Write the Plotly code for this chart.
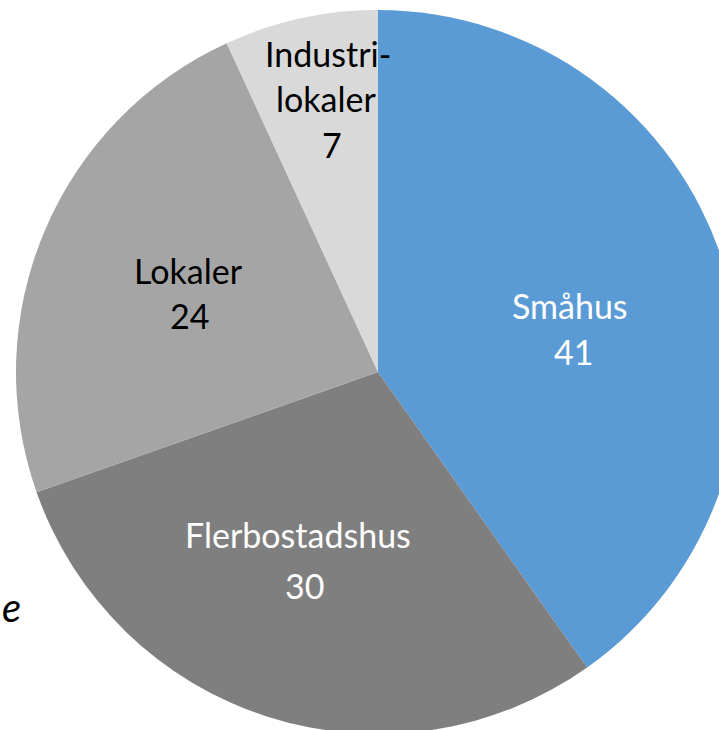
import plotly.graph_objects as go

categories = ["Småhus", "Flerbostadshus", "Lokaler", "Industrilokaler"]
values = [41, 30, 24, 7]
name_lines = [["Småhus"], ["Flerbostadshus"], ["Lokaler"], ["Industri-", "lokaler"]]
colors = ["#5B9BD5", "#7F7F7F", "#A5A5A5", "#D9D9D9"]
text_colors = ["white", "white", "black", "black"]

W, H = 740, 734
ML, MT = 16, 10
PW, PH = W - ML, H - MT

def px(x, y):
    return (x - ML) / PW, 1 - (y - MT) / PH

# label line centre positions in pixels (layout only): name lines then value line
name_pos = [[(570, 306)], [(298, 535)], [(188, 271)], [(328, 55), (326, 99)]]
value_pos = [(573, 352), (304, 586), (189, 316), (332, 145)]

FONT = "Lato, 'Open Sans', sans-serif"
FS = 34

fig = go.Figure(go.Pie(
    labels=categories,
    values=values,
    sort=False,
    direction="clockwise",
    rotation=0,
    marker=dict(colors=colors, line=dict(width=0)),
    textinfo="none",
    hoverinfo="label+value",
    showlegend=False,
))

annotations = []
def add(txt, col, x, y, size=FS, xanchor="center"):
    ax, ay = px(x, y - 1)
    annotations.append(dict(
        x=ax, y=ay, xref="paper", yref="paper", text=txt, showarrow=False,
        font=dict(family=FONT, size=size, color=col), xanchor=xanchor, yanchor="middle",
    ))

for lines, poss, v, vp, col in zip(name_lines, name_pos, values, value_pos, text_colors):
    for ln, (x, y) in zip(lines, poss):
        add(ln, col, x, y)
    add(str(v), col, vp[0], vp[1])

add("<i>e</i>", "black", 0, 608, size=40, xanchor="left")

fig.update_layout(
    width=W, height=H,
    margin=dict(l=ML, r=0, t=MT, b=0),
    paper_bgcolor="white", plot_bgcolor="white",
    annotations=annotations,
)

fig.write_html(
    "out.html",
    config={"displayModeBar": False},
    post_script="document.body.style.margin='0';document.body.style.overflow='hidden';document.documentElement.style.overflow='hidden';",
)
